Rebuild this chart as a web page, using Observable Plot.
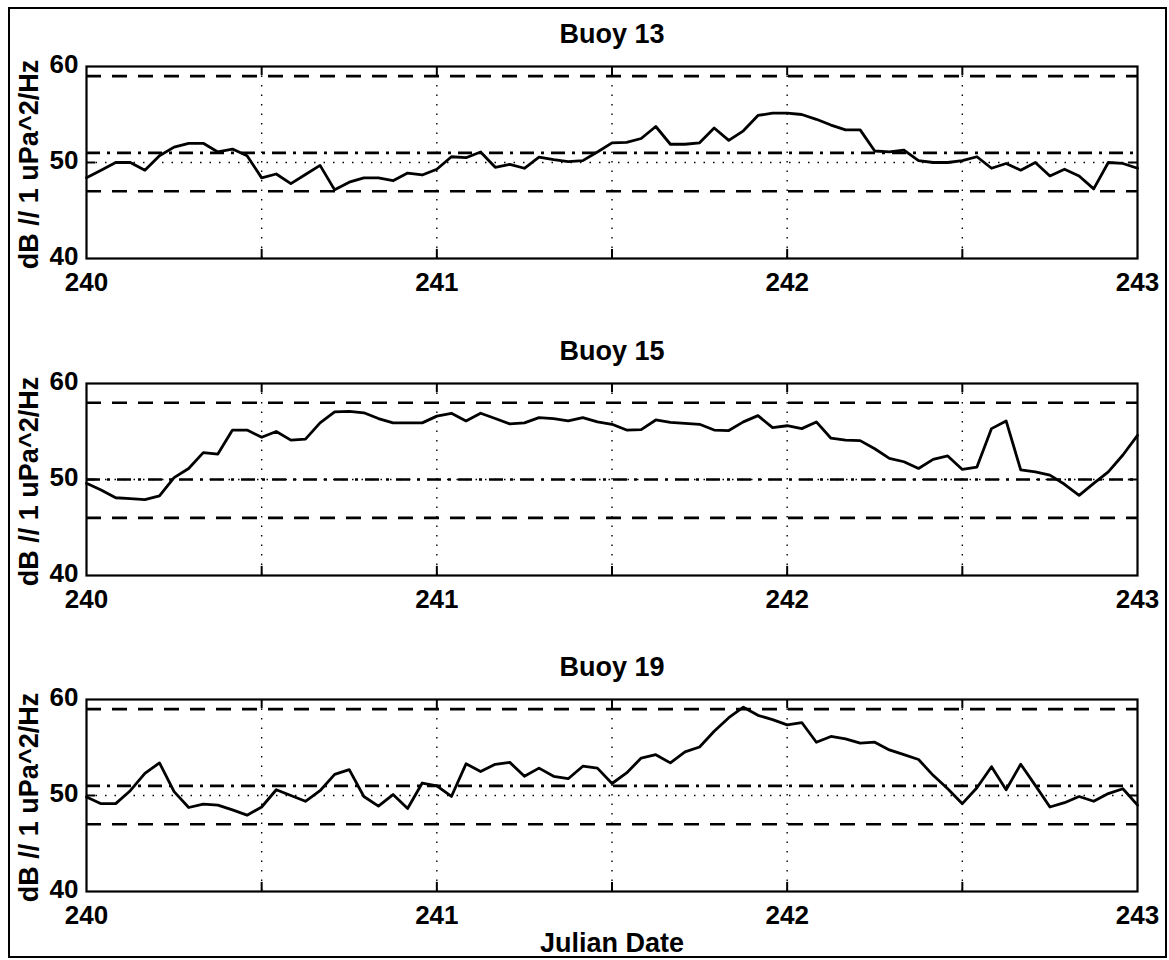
<!DOCTYPE html>
<html>
<head>
<meta charset="utf-8">
<script src="https://cdn.jsdelivr.net/npm/d3@7"></script>
<script src="https://cdn.jsdelivr.net/npm/@observablehq/plot@0.6"></script>
<style>
  html, body { margin: 0; padding: 0; background: #fff; }
  #wrap { position: relative; width: 1169px; height: 960px; background: #fff; overflow: hidden; }
  #border { position: absolute; left: 8px; top: 7px; width: 1159px; height: 951px; box-sizing: border-box; border: 2px solid #000; }
  .panel { position: absolute; left: 0; }
</style>
</head>
<body>
<div id="wrap"><div id="border"></div></div>
<script>
// ---- data (hourly samples, hours after day 240) ----
const hours = [0,1,2,3,4,5,6,7,8,9,10,11,12,13,14,15,16,17,18,19,20,21,22,23,24,
  25,26,27,28,29,30,31,32,33,34,35,36,37,38,39,40,41,42,43,44,45,46,47,48,
  49,50,51,52,53,54,55,56,57,58,59,60,61,62,63,64,65,66,67,68,69,70,71,72];

const titles = ["Buoy 13", "Buoy 15", "Buoy 19"];

const buoy13 = [48.4,49.2,50.0,50.0,49.2,50.7,51.6,52.0,52.0,51.1,51.4,50.7,48.4,48.8,47.8,48.75,49.7,47.15,47.95,48.4,48.4,48.1,48.9,48.7,49.3,
  50.6,50.5,51.1,49.5,49.8,49.4,50.55,50.3,50.1,50.2,51.1,52.05,52.1,52.5,53.75,51.9,51.9,52.05,53.6,52.3,53.3,54.9,55.15,55.15,
  55.0,54.5,53.9,53.4,53.4,51.2,51.1,51.3,50.2,50.0,50.0,50.2,50.6,49.4,49.9,49.2,50.0,48.6,49.3,48.6,47.25,50.0,49.9,49.4];

const buoy15 = [49.6,48.9,48.1,48.0,47.9,48.3,50.2,51.15,52.8,52.65,55.15,55.15,54.4,55.0,54.1,54.2,55.9,57.05,57.1,56.95,56.35,55.9,55.9,55.9,56.6,
  56.9,56.1,56.9,56.35,55.8,55.9,56.45,56.35,56.1,56.45,56.0,55.75,55.15,55.2,56.2,55.95,55.85,55.75,55.15,55.1,56.0,56.65,55.4,55.6,
  55.3,56.0,54.3,54.1,54.05,53.2,52.2,51.85,51.15,52.1,52.45,51.05,51.3,55.3,56.1,51.0,50.8,50.45,49.5,48.35,49.6,50.8,52.55,54.6];

const buoy19 = [49.85,49.15,49.15,50.5,52.3,53.4,50.4,48.75,49.1,49.0,48.5,47.95,48.8,50.6,50.0,49.4,50.5,52.2,52.7,49.9,48.9,50.1,48.65,51.3,51.0,
  49.9,53.3,52.5,53.25,53.45,52.0,52.85,52.0,51.75,53.05,52.85,51.25,52.35,53.9,54.25,53.4,54.55,55.05,56.7,58.1,59.2,58.35,57.9,57.35,
  57.6,55.55,56.15,55.9,55.45,55.55,54.75,54.25,53.75,52.1,50.7,49.15,50.8,53.0,50.6,53.25,51.05,48.8,49.25,49.9,49.4,50.2,50.7,49.0];

// reference levels per buoy: upper (dashed), mean (dash-dot), lower (dashed)
const upperLevels = [59, 58, 59];
const meanLevels  = [51, 50, 51];
const lowerLevels = [47, 46, 47];

const xTickLabels = [240, 241, 242, 243];
const xGridDays = [240.5, 241, 241.5, 242, 242.5];
const yTickLabels = [40, 50, 60];
const yGridLevels = [50];
const yLabel = "dB // 1 uPa^2/Hz";
const xLabel = "Julian Date";

// ---- drawing ----
const FONT = "'Liberation Sans', Arial, Helvetica, sans-serif";
const series = [buoy13, buoy15, buoy19];
const panelTops = [0, 317, 633];
const panelHeights = [308, 308, 327];

function panel(k) {
  const values = series[k];
  const data = hours.map((h, i) => ({day: 240 + h / 24, db: values[i]}));
  const height = panelHeights[k];
  const marks = [
    Plot.ruleX(xGridDays, {stroke: "#000", strokeWidth: 1.4, strokeDasharray: "1.5,8"}),
    Plot.ruleY(yGridLevels, {stroke: "#000", strokeWidth: 1.4, strokeDasharray: "1.5,8"}),
    Plot.ruleY([upperLevels[k], lowerLevels[k]], {stroke: "#000", strokeWidth: 2.6, strokeDasharray: "15,11"}),
    Plot.ruleY([meanLevels[k]], {stroke: "#000", strokeWidth: 2.6, strokeDasharray: "14,7,3,7"}),
    Plot.line(data, {x: "day", y: "db", stroke: "#000", strokeWidth: 2.8}),
    // inward tick marks
    Plot.ruleX(xGridDays, {y1: () => 40, y2: () => 40.95, stroke: "#000", strokeWidth: 2}),
    Plot.ruleX(xGridDays, {y1: () => 59.05, y2: () => 60, stroke: "#000", strokeWidth: 2}),
    Plot.ruleY(yGridLevels, {x1: () => 240, x2: () => 240.026, stroke: "#000", strokeWidth: 2}),
    Plot.ruleY(yGridLevels, {x1: () => 242.974, x2: () => 243, stroke: "#000", strokeWidth: 2}),
    Plot.frame({stroke: "#000", strokeWidth: 2.2}),
    Plot.axisX({ticks: xTickLabels, tickSize: 0, tickPadding: 14, label: null, fontSize: 26, tickFormat: d => String(d)}),
    Plot.axisY({ticks: yTickLabels, tickSize: 0, tickPadding: 8, label: null, fontSize: 26, dy: -2, tickFormat: d => String(d)}),
    Plot.text([titles[k]], {frameAnchor: "top", dy: -32, lineAnchor: "middle", fill: "#000"}),
    Plot.text([yLabel], {frameAnchor: "left", dx: -57, dy: 2, rotate: -90, lineAnchor: "middle", textAnchor: "middle", fill: "#000"})
  ];
  if (k === 2) {
    marks.push(Plot.text([xLabel], {frameAnchor: "bottom", dy: 52, lineAnchor: "middle", fill: "#000"}));
  }
  const svg = Plot.plot({
    width: 1169,
    height,
    marginLeft: 86,
    marginRight: 32,
    marginTop: 66,
    marginBottom: height - 66 - 192,
    x: {domain: [240, 243]},
    y: {domain: [40, 60]},
    style: {fontFamily: FONT, fontSize: "27px", fontWeight: "bold", color: "#000", background: "transparent", overflow: "visible"},
    marks
  });
  svg.classList.add("panel");
  svg.style.top = panelTops[k] + "px";
  return svg;
}

const wrap = document.getElementById("wrap");
for (let k = 0; k < 3; k++) wrap.appendChild(panel(k));
</script>
</body>
</html>
